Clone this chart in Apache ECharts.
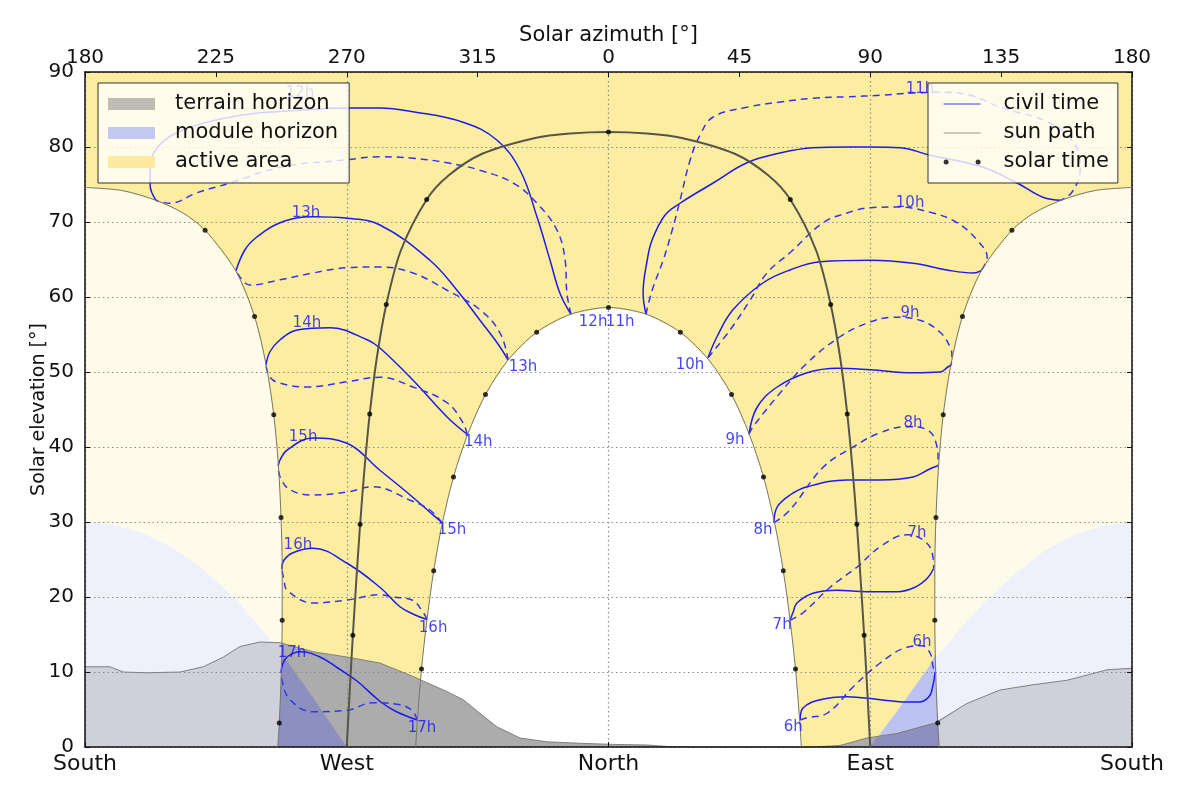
<!DOCTYPE html>
<html>
<head>
<meta charset="utf-8">
<script src="https://cdn.jsdelivr.net/npm/echarts/dist/echarts.min.js"></script>
<style>html,body{margin:0;padding:0;background:#fff}#chart{width:1200px;height:800px}</style>
</head>
<body>
<div id="chart"></div>
<script>
// ---------- tick labels ----------
const topTickLabels = ['180','225','270','315','0','45','90','135','180'];
const bottomTickLabels = ['South','West','North','East','South'];

// ---------- sun paths [azimuth (x, -180..180), elevation] ----------
const junePath = [[66.3,0],[65.7,3.6],[64.3,10.4],[62.4,17.0],[60.1,23.5],[57.1,29.9],[53.3,36.0],[48.4,41.7],[42.3,47.0],[34.5,51.6],[24.7,55.3],[13.0,57.7],[0,58.6],[-13.0,57.7],[-24.7,55.3],[-34.5,51.6],[-42.3,47.0],[-48.4,41.7],[-53.3,36.0],[-57.1,29.9],[-60.1,23.5],[-62.4,17.0],[-64.3,10.4],[-65.7,3.6],[-66.3,0]];
const equinoxPath = [[90,0],[89.0,7.4],[87.9,14.9],[86.7,22.3],[85.4,29.7],[83.9,37.1],[82.1,44.4],[79.7,51.8],[76.4,59.0],[71.4,66.2],[62.5,73.0],[55.0,76.2],[43.4,79.1],[25.2,81.2],[13.2,81.8],[0,82.0],[-13.2,81.8],[-25.2,81.2],[-43.4,79.1],[-55.0,76.2],[-62.5,73.0],[-71.4,66.2],[-76.4,59.0],[-79.7,51.8],[-82.1,44.4],[-83.9,37.1],[-85.4,29.7],[-86.7,22.3],[-87.9,14.9],[-89.0,7.4],[-90,0]];
const decPathWest = [[-180,74.6],[-167.3,74.2],[-155.7,72.9],[-146.3,71.2],[-138.7,68.9],[-128.2,63.5],[-121.7,57.4],[-117.7,50.9],[-115.1,44.3],[-113.5,37.5],[-112.6,30.6],[-112.2,23.8],[-112.2,16.9],[-112.5,10.0],[-113.2,3.2],[-113.7,0]];
const decPathEast = [[180,74.6],[167.3,74.2],[155.7,72.9],[146.3,71.2],[138.7,68.9],[128.2,63.5],[121.7,57.4],[117.7,50.9],[115.1,44.3],[113.5,37.5],[112.6,30.6],[112.2,23.8],[112.2,16.9],[112.5,10.0],[113.2,3.2],[113.7,0]];

// ---------- solar time dots ----------
const juneDots = [[-64.3,10.4],[-60.1,23.5],[-53.3,36.0],[-42.3,47.0],[-24.7,55.3],[0,58.6],[24.7,55.3],[42.3,47.0],[53.3,36.0],[60.1,23.5],[64.3,10.4]];
const equinoxDots = [[-87.9,14.9],[-85.4,29.7],[-82.1,44.4],[-76.4,59.0],[-62.5,73.0],[0,82.0],[62.5,73.0],[76.4,59.0],[82.1,44.4],[85.4,29.7],[87.9,14.9]];
const decDots = [[-113.2,3.2],[-112.2,16.9],[-112.6,30.6],[-115.1,44.3],[-121.7,57.4],[-138.7,68.9],[138.7,68.9],[121.7,57.4],[115.1,44.3],[112.6,30.6],[112.2,16.9],[113.2,3.2]];

// ---------- horizons ----------
const moduleWest = [[-180,30],[-170,29.6],[-160,28.5],[-150,26.6],[-140,23.9],[-130,20.4],[-120,16.1],[-110,11.2],[-100,5.7],[-90,0]];
const moduleEast = [[90,0],[100,5.2],[110,10.6],[120,15.4],[130,19.6],[140,23.2],[150,26.2],[160,28.3],[170,29.5],[180,30]];
const terrain = [[-180,10.7],[-171.4,10.7],[-166.8,10.0],[-158.8,9.9],[-147.3,10.0],[-139.3,10.7],[-132.4,12.0],[-126.7,13.4],[-119.8,14.0],[-112.9,13.9],[-101.5,12.7],[-90,12.0],[-78.6,11.2],[-67.2,9.4],[-55.6,7.4],[-49.9,6.3],[-44.2,4.5],[-38.4,2.7],[-30.4,1.2],[-21.2,0.7],[-9.8,0.5],[1.6,0.35],[13.2,0.27],[21.2,0.05],[30,0],[70,0],[79.6,0.2],[88.8,1.2],[99.1,1.8],[112.3,3.2],[123.2,5.8],[134.6,7.6],[146,8.3],[157.6,8.9],[166.6,9.8],[171.4,10.3],[180,10.5]];

// ---------- civil time analemmas ----------
const civil6Solid = [[65.9,3.6],[66.9,5.2],[72.8,6.3],[82.0,6.7],[93.4,6.3],[102.7,6.0],[106.5,6.0],[110.2,6.7],[111.6,8.3],[112.3,10.0]];
const civil6Dashed = [[65.9,3.6],[68.3,3.9],[75.2,4.5],[84.1,8.0],[93.4,11.2],[102.7,13.3],[107.8,13.5],[110.6,12.5],[111.6,10.7],[112.3,10.0]];
const civil7Solid = [[62.4,16.9],[63.5,18.0],[64.8,19.2],[70.3,20.5],[78.6,20.9],[88.9,20.7],[99.2,20.7],[105.4,21.3],[109.6,22.5],[111.8,23.8]];
const civil7Dashed = [[62.4,16.9],[66.9,17.9],[76.2,21.3],[85.5,24.0],[93.4,26.7],[102.7,28.3],[108.2,27.6],[111.3,25.9],[111.8,23.8]];
const civil8Solid = [[56.9,29.9],[58.0,32.0],[62.4,33.6],[68.3,34.7],[82.0,35.6],[93.4,35.6],[104.7,36.0],[110.6,37.1],[113.3,37.5]];
const civil8Dashed = [[56.9,29.9],[62.4,31.6],[73.8,37.3],[84.1,40.0],[93.4,41.9],[102.7,42.7],[109.6,42.3],[113.0,40.0],[113.3,38.7],[113.3,37.5]];
const civil9Solid = [[48.3,41.7],[51.1,45.3],[58.0,48.0],[68.3,49.9],[78.6,50.5],[90.0,50.3],[104.7,49.9],[114.0,50.0],[116.8,50.7],[117.8,50.9]];
const civil9Dashed = [[48.3,41.7],[49.7,42.7],[59.0,47.2],[68.3,51.2],[79.6,54.7],[88.9,56.5],[97.9,57.3],[107.1,56.9],[114.0,55.3],[117.5,53.3],[118.1,52.0],[117.8,50.9]];
const civil10Solid = [[34.2,51.9],[37.3,54.7],[42.8,58.3],[53.2,61.9],[62.4,63.6],[72.8,64.7],[90.0,64.9],[104.7,64.5],[116.4,63.6],[125.4,63.2],[128.1,63.5]];
const civil10Dashed = [[34.2,51.9],[41.8,55.6],[48.7,59.6],[54.5,63.2],[62.4,65.9],[73.8,69.9],[82.0,71.2],[90.0,71.9],[99.2,72.0],[111.6,71.2],[119.9,69.9],[126.7,67.6],[130.2,65.3],[128.1,63.5]];
const civil11Solid = [[12.9,57.7],[11.9,60.5],[13.3,64.9],[15.0,67.6],[19.4,70.9],[24.6,72.5],[36.0,75.2],[47.6,77.9],[59.0,79.2],[70.3,79.9],[82.0,80.0],[90.0,80.0],[100.3,79.9],[110.6,78.9],[128.8,77.3],[140.5,75.2],[149.4,73.3],[155.6,72.9]];
const civil11Dashed = [[12.9,57.7],[15.0,60.9],[18.8,64.9],[21.9,68.9],[24.6,72.9],[28.1,78.3],[31.5,81.6],[36.0,84.0],[47.6,85.3],[59.0,86.0],[70.3,86.5],[82.0,86.7],[93.4,86.9],[104.7,87.2],[114.0,87.3],[124.3,86.9],[134.7,85.3],[151.8,83.2],[160.4,80.3],[162.2,76.9],[159.4,74.0],[155.6,72.9]];
const civil12Solid = [[-12.9,57.7],[-16.7,60.5],[-20.1,64.9],[-24.6,70.7],[-30.4,76.9],[-38.3,80.9],[-50.0,83.3],[-67.2,84.7],[-78.6,85.2],[-89.9,85.2],[-106.1,84.9],[-123.3,84.4],[-136.0,83.5],[-147.3,82.1],[-154.2,80.3],[-157.6,77.6],[-157.6,74.9],[-155.6,72.9]];
const civil12Dashed = [[-12.9,57.7],[-14.3,60.5],[-14.9,64.9],[-17.7,68.9],[-24.6,72.5],[-32.8,75.2],[-44.2,76.9],[-55.5,77.9],[-67.2,78.5],[-78.6,78.7],[-89.9,78.3],[-112.9,77.3],[-130.1,75.2],[-141.5,73.9],[-150.8,72.5],[-155.6,72.9]];
const civil13Solid = [[-34.5,51.6],[-38.3,53.9],[-44.2,56.9],[-52.1,60.9],[-61.4,64.9],[-78.6,69.6],[-89.9,70.5],[-101.6,70.7],[-112.9,69.9],[-120.9,68.0],[-125.0,66.3],[-128.1,63.5]];
const civil13Dashed = [[-34.5,51.6],[-37.3,55.2],[-44.2,58.3],[-55.5,60.9],[-67.2,63.2],[-78.6,64.0],[-89.9,63.9],[-101.6,63.2],[-112.9,62.3],[-123.3,61.6],[-126.0,62.3],[-128.1,63.5]];
const civil14Solid = [[-48.6,41.7],[-55.5,44.0],[-67.2,48.9],[-78.6,53.2],[-83.0,54.3],[-95.8,55.9],[-107.1,55.6],[-112.9,54.3],[-116.4,52.7],[-117.8,50.9]];
const civil14Dashed = [[-48.6,41.7],[-50.0,43.2],[-55.5,45.9],[-67.2,48.0],[-78.6,49.3],[-89.9,48.7],[-103.7,48.0],[-112.9,48.5],[-116.4,49.3],[-117.8,50.9]];
const civil15Solid = [[-57.2,29.9],[-61.4,31.3],[-68.2,33.6],[-78.6,36.9],[-89.9,40.5],[-101.6,41.2],[-110.5,39.6],[-112.9,38.3],[-113.6,37.5]];
const civil15Dashed = [[-57.2,29.9],[-61.4,31.6],[-68.2,32.9],[-81.0,34.7],[-89.9,34.0],[-101.6,33.6],[-109.5,34.3],[-112.9,36.0],[-113.6,37.5]];
const civil16Solid = [[-62.4,17.0],[-66.5,17.6],[-71.7,18.7],[-78.6,21.3],[-89.9,24.5],[-101.6,26.5],[-108.5,25.9],[-111.6,24.9],[-112.3,23.7]];
const civil16Dashed = [[-62.4,17.0],[-63.8,18.0],[-67.6,19.6],[-74.1,20.0],[-78.6,20.3],[-89.9,19.6],[-101.6,19.2],[-110.5,20.9],[-111.6,22.3],[-112.3,23.7]];
const civil17Solid = [[-65.8,3.6],[-73.4,4.8],[-78.6,6.1],[-86.5,8.8],[-93.0,10.5],[-99.2,12.0],[-106.1,12.7],[-110.2,12.1],[-111.9,11.2],[-112.6,10.0]];
const civil17Dashed = [[-65.8,3.6],[-67.6,4.9],[-72.7,5.7],[-81.0,5.9],[-89.9,4.9],[-101.6,4.7],[-109.5,6.3],[-112.3,8.9],[-112.6,10.0]];

// ---------- hour labels ----------
const hourLabelText = ['6h','7h','8h','9h','10h','11h','12h','13h','14h','15h','16h','17h'];
const outerLabelPos = [[107.8,14.0],[106.1,28.5],[104.7,43.2],[103.7,57.9],[103.7,72.5],[107.1,87.7],[-106.1,87.2],[-104.0,71.2],[-103.7,56.5],[-105.0,41.3],[-106.8,26.9],[-108.8,12.5]];
const innerLabelPos = [[63.5,2.7],[59.7,16.3],[53.1,28.9],[43.5,40.9],[28.0,50.9],[4.0,56.7],[-5.3,56.7],[-29.4,50.7],[-44.8,40.7],[-53.8,28.9],[-60.3,15.9],[-64.1,2.5]];

// ---------- colours ----------
const C = {
  active: '#fdeda1', outside: '#fffbea', inner: '#ffffff',
  modulePale: '#eef1fc', moduleDark: '#bcc3f1',
  terrain: '#acacac', terrainPale: '#cfd0d9', terrainDark: '#8d90bf',
  blue: '#1c1ce8', blueDash: '#3434ec'
};

// ---------- build polygons from the arrays ----------
const plotRect = [[-180,0],[180,0],[180,90],[-180,90]];
const outsideWest = decPathWest.concat([[-180,0]]);
const outsideEast = decPathEast.concat([[180,0]]);
const moduleWestPoly = moduleWest.concat([[-180,0]]);
const moduleEastPoly = moduleEast.concat([[180,0]]);
const moduleWestActive = [[-112.3,12.3]].concat(moduleWest.filter(p => p[0] > -112.3), [[-113.7,0],[-113.2,3.2],[-112.5,10.0]]);
const moduleEastActive = [[112.3,12.3]].concat(moduleEast.filter(p => p[0] < 112.3).reverse(), [[113.7,0],[113.2,3.2],[112.5,10.0]]);
const terrainPoly = terrain.concat([[180,0],[-180,0]]);
const terrainWestOut = terrain.filter(p => p[0] < -115).concat([[-112.4,13.9],[-112.5,10.0],[-113.2,3.2],[-113.7,0],[-180,0]]);
const terrainEastOut = [[113.7,0],[113.2,3.25]].concat(terrain.filter(p => p[0] > 115), [[180,0]]);
const terrainEastModule = [[90,0],[92,1.25]].concat(terrain.filter(p => p[0] > 92 && p[0] < 113), [[113.2,3.25],[113.7,0]]);

function fill(name, pts, color, z) {
  return {
    type: 'custom', name: name, coordinateSystem: 'cartesian2d', xAxisIndex: 0, yAxisIndex: 0,
    silent: true, z: z, itemStyle: { color: color },
    data: [[pts[0][0], pts[0][1]]],
    renderItem: function (params, api) {
      return { type: 'polygon', shape: { points: pts.map(p => api.coord(p)) }, style: { fill: color } };
    }
  };
}
function line(name, pts, color, width, type, z, smooth) {
  return {
    type: 'line', name: name, data: pts, xAxisIndex: 0, yAxisIndex: 0, symbol: 'none', showSymbol: false,
    smooth: smooth, silent: true, z: z, lineStyle: { color: color, width: width, type: type }, itemStyle: { color: color }
  };
}

const series = [];
series.push(fill('active area', plotRect, C.active, 1));
series.push(fill('outside', outsideWest, C.outside, 1));
series.push(fill('outside', outsideEast, C.outside, 1));
series.push(fill('inner', junePath, C.inner, 1));
series.push(fill('module horizon', moduleWestPoly, C.modulePale, 1));
series.push(fill('module horizon', moduleEastPoly, C.modulePale, 1));
series.push(fill('module active', moduleWestActive, C.moduleDark, 1));
series.push(fill('module active', moduleEastActive, C.moduleDark, 1));
series.push(fill('terrain horizon', terrainPoly, C.terrain, 1));
series.push(fill('terrain out', terrainWestOut, C.terrainPale, 1));
series.push(fill('terrain out', terrainEastOut, C.terrainPale, 1));
series.push(fill('terrain module', moduleWestActive, C.terrainDark, 1));
series.push(fill('terrain module', terrainEastModule, C.terrainDark, 1));
series.push(line('terrain edge', terrain, 'rgba(110,110,110,0.8)', 1, 'solid', 2, false));

const solids = [civil6Solid, civil7Solid, civil8Solid, civil9Solid, civil10Solid, civil11Solid, civil12Solid, civil13Solid, civil14Solid, civil15Solid, civil16Solid, civil17Solid];
const dashes = [civil6Dashed, civil7Dashed, civil8Dashed, civil9Dashed, civil10Dashed, civil11Dashed, civil12Dashed, civil13Dashed, civil14Dashed, civil15Dashed, civil16Dashed, civil17Dashed];
solids.forEach(d => series.push(line('civil time', d, C.blue, 1.5, 'solid', 6, 0.4)));
dashes.forEach(d => series.push(line('civil time', d, C.blueDash, 1.5, [7, 5], 6, 0.4)));

series.push(line('sun path', equinoxPath, '#55554a', 2, 'solid', 7, 0.3));
series.push(line('boundary', junePath, '#75756a', 1, 'solid', 7, 0.3));
series.push(line('boundary', decPathWest, '#75756a', 1, 'solid', 7, 0.3));
series.push(line('boundary', decPathEast, '#75756a', 1, 'solid', 7, 0.3));

series.push({
  type: 'scatter', name: 'solar time', xAxisIndex: 0, yAxisIndex: 0, z: 8, silent: true,
  symbol: 'circle', symbolSize: 5, itemStyle: { color: '#000' },
  data: juneDots.concat(equinoxDots, decDots)
});

function labelSeries(pos) {
  return {
    type: 'scatter', name: 'hour labels', xAxisIndex: 0, yAxisIndex: 0, z: 9, silent: true,
    symbolSize: 0, itemStyle: { color: 'rgba(0,0,0,0)' },
    label: { show: true, position: 'inside', color: '#1515f0', fontSize: 15, fontFamily: 'DejaVu Sans' },
    data: pos.map((p, i) => ({ value: [p[0], p[1]], label: { formatter: hourLabelText[i] } }))
  };
}
series.push(labelSeries(outerLabelPos));
series.push(labelSeries(innerLabelPos));

const axisLineStyle = { color: '#111', width: 1.5 };
const tickStyle = { color: '#111', width: 1 };
const gridLine = { type: [1.5, 3], color: '#8c8c8c', width: 1.2 };

const option = {
  animation: false,
  backgroundColor: '#ffffff',
  textStyle: { fontFamily: 'DejaVu Sans' },
  grid: { left: 85, right: 68, top: 72, bottom: 53, show: false, outerBoundsMode: 'none', containLabel: false },
  xAxis: [
    { type: 'value', position: 'bottom', min: -180, max: 180, interval: 90, z: 5,
      axisLine: { show: true, onZero: false, lineStyle: axisLineStyle },
      axisTick: { show: true, inside: true, length: 5, lineStyle: tickStyle },
      axisLabel: { margin: 6, fontSize: 22, color: '#111', showMinLabel: true, showMaxLabel: true,
        formatter: v => bottomTickLabels[Math.round((v + 180) / 90)] },
      splitLine: { show: true, lineStyle: gridLine } },
    { type: 'value', position: 'top', min: -180, max: 180, interval: 45, z: 5,
      name: 'Solar azimuth [°]', nameLocation: 'middle', nameGap: 26, nameMoveOverlap: false,
      nameTextStyle: { fontSize: 21, color: '#111' },
      axisLine: { show: true, onZero: false, lineStyle: axisLineStyle },
      axisTick: { show: true, inside: true, length: 5, lineStyle: tickStyle },
      axisLabel: { margin: 4, fontSize: 20, color: '#111', showMinLabel: true, showMaxLabel: true,
        formatter: v => topTickLabels[Math.round((v + 180) / 45)] },
      splitLine: { show: false } }
  ],
  yAxis: [
    { type: 'value', position: 'left', min: 0, max: 90, interval: 10, z: 5,
      name: 'Solar elevation [°]', nameLocation: 'middle', nameGap: 36, nameRotate: 90, nameMoveOverlap: false,
      nameTextStyle: { fontSize: 19, color: '#111' },
      axisLine: { show: true, onZero: false, lineStyle: axisLineStyle },
      axisTick: { show: true, inside: true, length: 5, lineStyle: tickStyle },
      axisLabel: { margin: 11, fontSize: 20, color: '#111', showMinLabel: true, showMaxLabel: true },
      splitLine: { show: true, lineStyle: gridLine } },
    { type: 'value', position: 'right', min: 0, max: 90, interval: 10, z: 5,
      axisLine: { show: true, onZero: false, lineStyle: axisLineStyle },
      axisTick: { show: true, inside: true, length: 5, lineStyle: tickStyle },
      axisLabel: { show: false }, splitLine: { show: false } }
  ],
  legend: [
    { orient: 'vertical', left: 98, top: 83, z: 20, padding: [9, 11, 9, 10], itemGap: 5,
      itemWidth: 47, itemHeight: 12, backgroundColor: 'rgba(255,255,255,0.8)', borderColor: '#333', borderWidth: 1,
      selectedMode: false, icon: 'rect',
      textStyle: { fontSize: 21, lineHeight: 24, color: '#111', padding: [0, 0, 0, 15] },
      data: [
        { name: 'terrain horizon', icon: 'rect', itemStyle: { color: '#bcbcb2' } },
        { name: 'module horizon', icon: 'rect', itemStyle: { color: '#c3caf2' } },
        { name: 'active area', icon: 'rect', itemStyle: { color: '#fde9a0' } }
      ] },
    { orient: 'vertical', left: 928, top: 83, z: 20, padding: [9, 9, 9, 15], itemGap: 5,
      itemWidth: 37, itemHeight: 6, backgroundColor: 'rgba(255,255,255,0.8)', borderColor: '#333', borderWidth: 1,
      selectedMode: false,
      textStyle: { fontSize: 21, lineHeight: 24, color: '#111', padding: [0, 0, 0, 18] },
      data: [
        { name: 'civil time', itemStyle: { opacity: 0 }, lineStyle: { color: '#3a3aee', width: 1.2 } },
        { name: 'sun path', itemStyle: { opacity: 0 }, lineStyle: { color: '#9a9a90', width: 1.2 } },
        { name: 'solar time', icon: 'path://M0,2.5a2.5,2.5 0 1,0 5,0a2.5,2.5 0 1,0 -5,0zM32,2.5a2.5,2.5 0 1,0 5,0a2.5,2.5 0 1,0 -5,0z', itemStyle: { color: '#000' } }
      ] }
  ],
  series: series
};

const chart = echarts.init(document.getElementById('chart'), null, { renderer: 'canvas' });
chart.setOption(option);
</script>
</body>
</html>
